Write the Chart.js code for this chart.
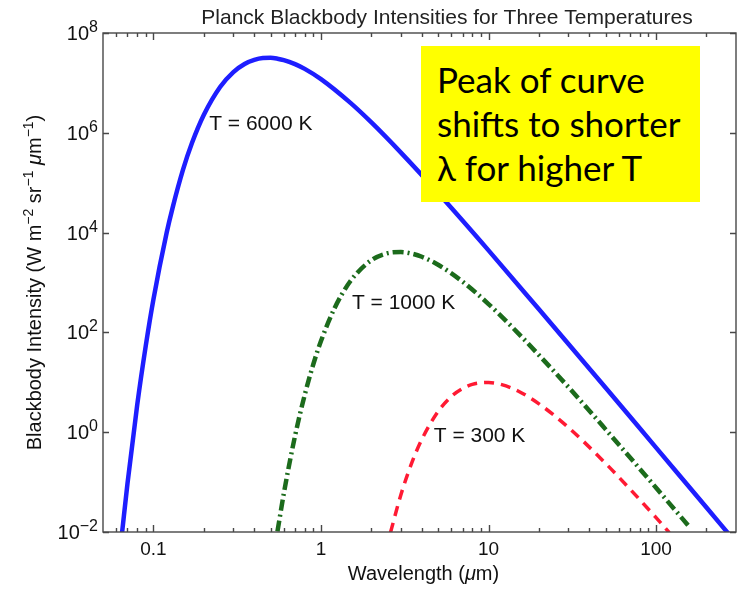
<!DOCTYPE html>
<html>
<head>
<meta charset="utf-8">
<script src="https://cdn.jsdelivr.net/npm/chart.js@4.4.0/dist/chart.umd.min.js"></script>
<style>
  html, body { margin: 0; padding: 0; background: #fff; }
  #wrap { position: relative; width: 740px; height: 590px; }
  #note {
    position: absolute; left: 421px; top: 46px; width: 279px; height: 156px;
    box-sizing: border-box; padding: 11px 0 0 16px;
    background: #ffff00; color: #000;
    font-family: Lato, "Open Sans", sans-serif; font-size: 35px; line-height: 44px;
    white-space: nowrap;
  }
</style>
</head>
<body>
<div id="wrap">
  <canvas id="myChart" width="740" height="590"></canvas>
  <div id="note">Peak of curve<br>shifts to shorter<br>λ for higher T</div>
</div>
<script>
// wavelengths (um) and intensities
const wl6000 = [0.065, 0.07, 0.08, 0.09, 0.1, 0.12, 0.13, 0.15, 0.17, 0.2, 0.25, 0.3, 0.35, 0.4, 0.45, 0.5, 0.55, 0.6, 0.7, 0.8, 1, 1.5, 2, 3, 5, 10, 20, 50, 100, 200, 270];
const bb6000 = [0.0098, 0.094, 3.5, 54, 460, 1.0e4, 3.1e4, 1.8e5, 6.3e5, 2.3e6, 8.3e6, 1.65e7, 2.4e7, 2.9e7, 3.15e7, 3.18e7, 3.06e7, 2.87e7, 2.38e7, 1.91e7, 1.19e7, 3.97e6, 1.61e6, 4.0e5, 6.2e4, 4.4e3, 290, 7.8, 0.49, 0.031, 0.0093];

const wl1000 = [0.55, 0.6, 0.7, 0.8, 0.9, 1, 1.2, 1.5, 2, 2.5, 3, 3.5, 4, 5, 7, 10, 15, 20, 30, 50, 100, 160];
const bb1000 = [0.0103, 0.059, 0.84, 5.6, 23, 67, 297, 1070, 2800, 3870, 4080, 3780, 3280, 2270, 1040, 370, 97, 35, 8.0, 1.14, 0.077, 0.0121];

const wl300 = [2.6, 3, 3.5, 4, 5, 6, 7, 8, 10, 12, 15, 20, 30, 50, 70, 100, 120];
const bb300 = [0.0098, 0.056, 0.254, 0.72, 2.6, 5.2, 7.5, 9.1, 9.9, 9.0, 6.7, 3.7, 1.24, 0.237, 0.072, 0.0194, 0.0097];

const seriesNames = ["T = 6000 K", "T = 1000 K", "T = 300 K"];
const labelWl = [0.215, 1.53, 4.71];
const labelBb = [1.5e6, 390, 0.85];

const xTickValues = [0.1, 1, 10, 100];
const xTickLabels = ["0.1", "1", "10", "100"];
const yTickValues = [1e-2, 1, 1e2, 1e4, 1e6, 1e8];
const yTickExps = ["\u22122", "0", "2", "4", "6", "8"];

const FONT = '"Liberation Sans", Arial, Helvetica, sans-serif';
const TEXT = "#111";

function toPoints (xs, ys) {
  return xs.map((x, i) => ({ x: x, y: ys[i] }));
}

function fontFor (part, size) {
  let s = part.sup ? Math.round(size * 0.7) : size;
  return (part.it ? "italic " : "") + s + "px " + FONT;
}

// draws text pieces (with superscripts / italics) centred on x
function drawRich (ctx, parts, x, y, size) {
  let total = 0;
  parts.forEach(p => {
    ctx.font = fontFor(p, size);
    p.w = ctx.measureText(p.t).width;
    total += p.w;
  });
  let cx = x - total / 2;
  parts.forEach(p => {
    ctx.font = fontFor(p, size);
    ctx.fillText(p.t, cx, y - (p.sup ? size * 0.42 : 0));
    cx += p.w;
  });
}

function minorTicks () {
  let out = [];
  [0.01, 0.1, 1, 10, 100].forEach(d => {
    for (let k = 2; k <= 9; k++) {
      let v = +(d * k).toPrecision(3);
      if (v > 0.05 && v < 300 && xTickValues.indexOf(v) < 0) { out.push(v); }
    }
  });
  return out;
}

const decor = {
  id: "decor",
  afterDatasetsDraw (chart) {
    const ctx  = chart.ctx;
    const area = chart.chartArea;
    const xs   = chart.scales.x;
    const ys   = chart.scales.y;

    ctx.save();
    ctx.strokeStyle = "#484848";
    ctx.lineWidth = 1.4;
    ctx.strokeRect(area.left, area.top, area.right - area.left, area.bottom - area.top);

    ctx.beginPath();
    xTickValues.forEach(v => {
      let px = Math.round(xs.getPixelForValue(v)) + 0.5;
      ctx.moveTo(px, area.bottom); ctx.lineTo(px, area.bottom - 7);
      ctx.moveTo(px, area.top);    ctx.lineTo(px, area.top + 7);
    });
    minorTicks().forEach(v => {
      let px = Math.round(xs.getPixelForValue(v)) + 0.5;
      ctx.moveTo(px, area.bottom); ctx.lineTo(px, area.bottom - 4);
      ctx.moveTo(px, area.top);    ctx.lineTo(px, area.top + 4);
    });
    yTickValues.forEach(v => {
      let py = Math.round(ys.getPixelForValue(v)) + 0.5;
      ctx.moveTo(area.left, py);  ctx.lineTo(area.left + 6, py);
      ctx.moveTo(area.right, py); ctx.lineTo(area.right - 6, py);
    });
    ctx.stroke();

    // y tick labels 10^n
    ctx.fillStyle = TEXT;
    ctx.textBaseline = "alphabetic";
    ctx.textAlign = "left";
    yTickValues.forEach((v, i) => {
      let py = ys.getPixelForValue(v);
      ctx.font = "16px " + FONT;
      let supW = ctx.measureText(yTickExps[i]).width;
      ctx.font = "20px " + FONT;
      let baseW = ctx.measureText("10").width;
      let right = area.left - 5;
      ctx.fillText("10", right - supW - baseW, py + 7);
      ctx.font = "16px " + FONT;
      ctx.fillText(yTickExps[i], right - supW, py - 1);
    });

    // curve labels
    ctx.font = "21px " + FONT;
    ctx.textBaseline = "middle";
    seriesNames.forEach((name, i) => {
      ctx.fillText(name, xs.getPixelForValue(labelWl[i]), ys.getPixelForValue(labelBb[i]));
    });

    // title
    ctx.textBaseline = "alphabetic";
    ctx.textAlign = "center";
    ctx.font = "21px " + FONT;
    ctx.fillStyle = "#222";
    ctx.fillText("Planck Blackbody Intensities for Three Temperatures", 447, 24);

    // axis titles
    ctx.fillStyle = TEXT;
    ctx.textAlign = "left";
    drawRich(ctx, [{ t: "Wavelength (" }, { t: "\u03bc", it: true }, { t: "m)" }],
      (area.left + area.right) / 2 + 4, 580, 20);

    ctx.save();
    ctx.translate(41, (area.top + area.bottom) / 2);
    ctx.rotate(-Math.PI / 2);
    drawRich(ctx, [
      { t: "Blackbody Intensity (W m" }, { t: "\u22122", sup: true },
      { t: " sr" }, { t: "\u22121", sup: true },
      { t: " " }, { t: "\u03bc", it: true }, { t: "m" }, { t: "\u22121", sup: true },
      { t: ")" }
    ], 0, 0, 20);
    ctx.restore();

    ctx.restore();
  }
};

const ctx = document.getElementById("myChart");
const chart = new Chart(ctx, {
  type: "line",
  data: {
    datasets: [{
      label: seriesNames[0],
      data: toPoints(wl6000, bb6000),
      borderColor: "#1e1eff",
      borderWidth: 4.5
    }, {
      label: seriesNames[1],
      data: toPoints(wl1000, bb1000),
      borderColor: "#1c6b1c",
      borderWidth: 4.5,
      borderDash: [11, 4, 2, 4]
    }, {
      label: seriesNames[2],
      data: toPoints(wl300, bb300),
      borderColor: "#ff1a33",
      borderWidth: 3.5,
      borderDash: [10, 7]
    }]
  },
  options: {
    responsive: false,
    devicePixelRatio: 1,
    animation: false,
    elements: {
      point: { radius: 0 },
      line: { cubicInterpolationMode: "monotone", fill: false, borderCapStyle: "butt" }
    },
    layout: { padding: { top: 33, right: 4, left: 0, bottom: 0 } },
    plugins: {
      legend: { display: false },
      tooltip: { enabled: false },
      title: { display: false }
    },
    scales: {
      x: {
        type: "logarithmic",
        min: 0.05,
        max: 300,
        grid: { display: false, drawTicks: false, tickLength: 0 },
        border: { display: false },
        ticks: {
          color: TEXT,
          font: { family: FONT, size: 19 },
          padding: 6,
          autoSkip: false,
          maxRotation: 0,
          callback: (value, index) => xTickLabels[index]
        },
        afterBuildTicks: (scale) => { scale.ticks = xTickValues.map(v => ({ value: v })); },
        afterFit: (scale) => { scale.height = 58; }
      },
      y: {
        type: "logarithmic",
        min: 1e-2,
        max: 1e8,
        grid: { display: false, drawTicks: false, tickLength: 0 },
        border: { display: false },
        ticks: { display: false },
        afterFit: (scale) => { scale.width = 103; }
      }
    }
  },
  plugins: [decor]
});
</script>
</body>
</html>
